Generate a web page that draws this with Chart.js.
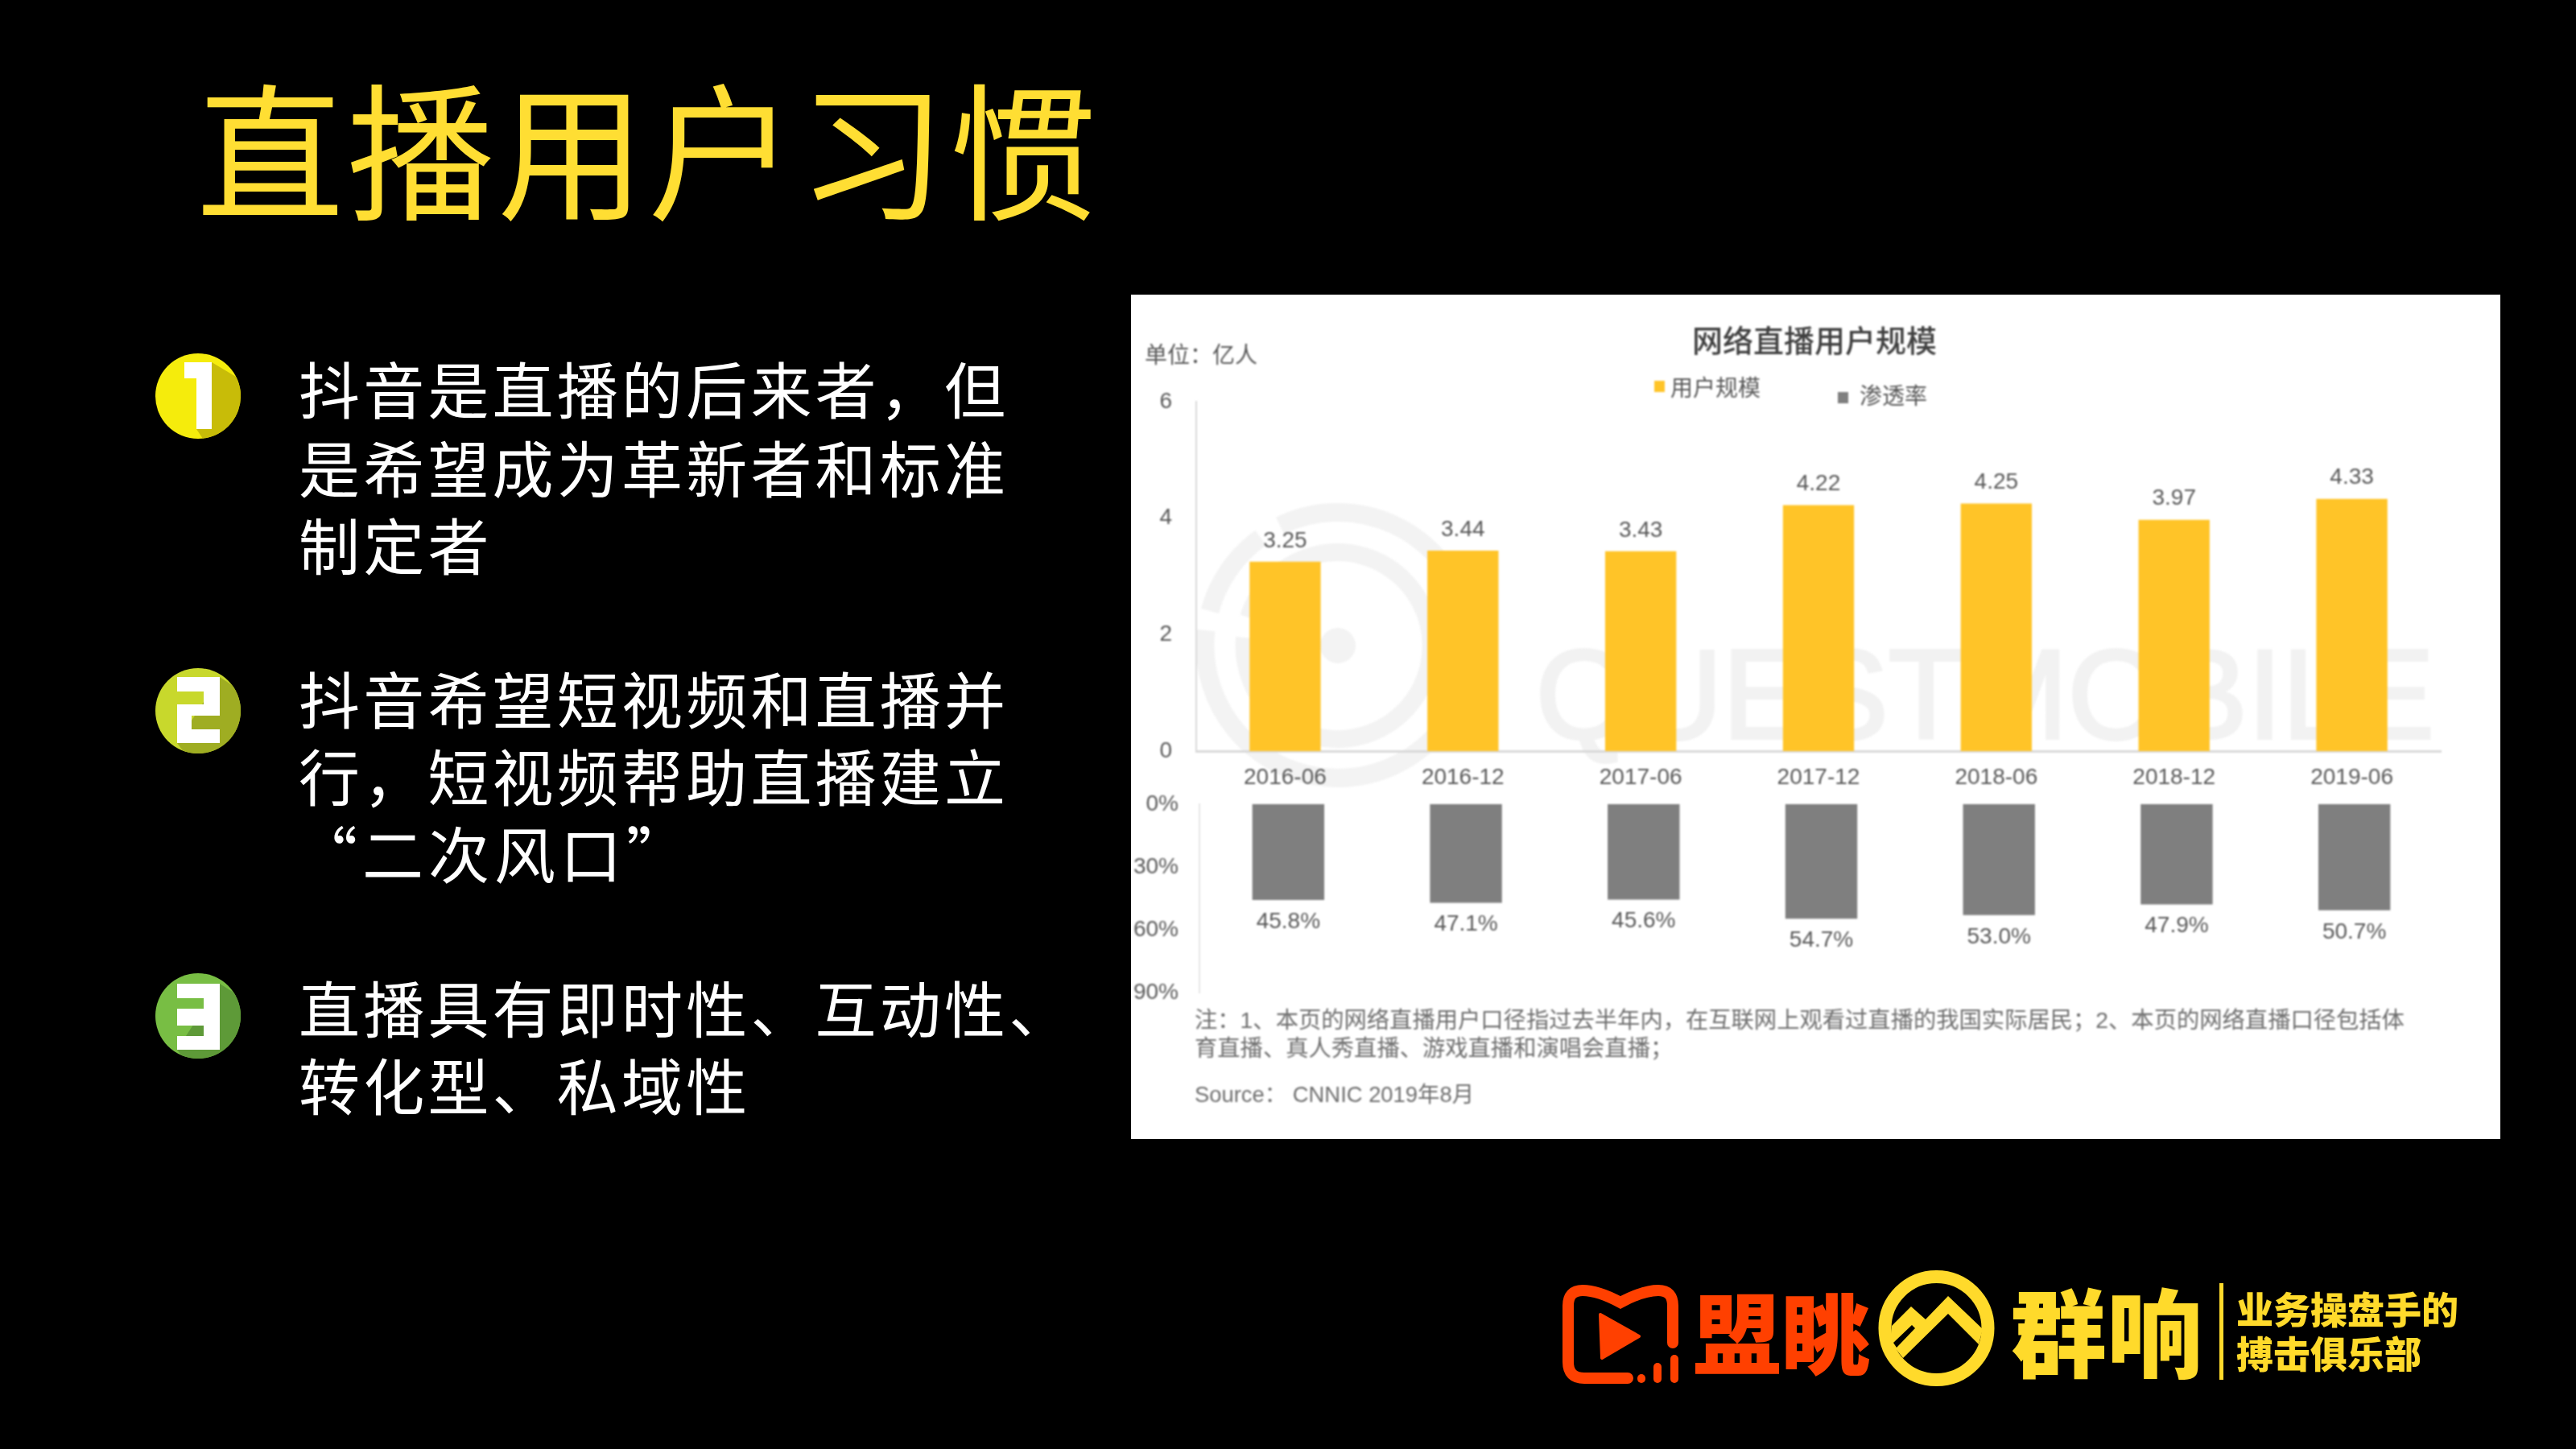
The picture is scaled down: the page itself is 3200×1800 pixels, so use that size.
<!DOCTYPE html>
<html lang="zh">
<head>
<meta charset="utf-8">
<script src="https://cdn.jsdelivr.net/npm/chart.js@4"></script>
<style>
  html, body { margin: 0; background: #000; }
  body { position: relative; width: 3200px; height: 1800px; overflow: hidden; font-family: "Noto Sans CJK SC", sans-serif; }
  .t { position: absolute; white-space: nowrap; }
  .title { left: 244px; top: 65px; font-size: 183px; line-height: 230px; color: #FFDE33; font-weight: 400; letter-spacing: 4px; }
  .line { left: 371px; font-size: 76px; line-height: 96px; color: #fff; letter-spacing: 4.2px; font-weight: 400; }
  svg { position: absolute; left: 0; top: 0; }
  #panel { position: absolute; left: 1405px; top: 366px; width: 1701px; height: 1049px; background: #fff; }
  #sheet { position: absolute; left: 0; top: 0; width: 3200px; height: 1800px; filter: blur(0.9px); font-family: "Liberation Sans", "Noto Sans CJK SC", sans-serif; }
  #sheet canvas { position: absolute; }
  .g { color: #595959; font-size: 28px; line-height: 36px; }
  .note { left: 1484px; color: #6e6e6e; font-size: 28.3px; line-height: 36px; }
  .sq { position: absolute; width: 13px; height: 14px; }
  .brand { font-weight: 900; }
</style>
</head>
<body>

<div class="t title">直播用户习惯</div>

<div class="t line" style="top:433px">抖音是直播的后来者，但</div>
<div class="t line" style="top:531px">是希望成为革新者和标准</div>
<div class="t line" style="top:627px">制定者</div>
<div class="t line" style="top:818px">抖音希望短视频和直播并</div>
<div class="t line" style="top:914px">行，短视频帮助直播建立</div>
<div class="t line" style="top:1010px;left:368px;letter-spacing:6px">“二次风口”</div>
<div class="t line" style="top:1202px">直播具有即时性、互动性、</div>
<div class="t line" style="top:1298px">转化型、私域性</div>

<!-- numbered badges -->
<svg width="3200" height="1800" viewBox="0 0 3200 1800">
  <defs>
    <clipPath id="c1"><circle cx="246" cy="492" r="53"/></clipPath>
    <clipPath id="c2"><circle cx="246" cy="883" r="53"/></clipPath>
    <clipPath id="c3"><circle cx="246" cy="1262" r="53"/></clipPath>
  </defs>
  <circle cx="246" cy="492" r="53" fill="#F5EC0C"/>
  <polygon clip-path="url(#c1)" points="263,450 320,484 320,560 262,560 244,533" fill="#C8BC08"/>
  <polygon points="229,450 263,450 263,533 244,533 244,470 229,470" fill="#fff"/>

  <circle cx="246" cy="883" r="53" fill="#C8D82C"/>
  <polygon clip-path="url(#c2)" points="273,841 320,872 320,950 240,950 220,923" fill="#9FAD22"/>
  <polygon points="220,841 273,841 273,889 238,889 238,906 273,906 273,923 220,923 220,875 253,875 253,859 220,859" fill="#fff"/>

  <circle cx="246" cy="1262" r="53" fill="#78BE44"/>
  <polygon clip-path="url(#c3)" points="273,1222 320,1252 320,1330 240,1330 220,1304" fill="#5E9A38"/>
  <polygon points="220,1222 273,1222 273,1304 220,1304 220,1287 253,1287 253,1274 220,1274 220,1253 253,1253 253,1240 220,1240" fill="#fff"/>
</svg>

<div id="panel"></div>

<div id="sheet">
  <!-- faint QuestMobile watermark behind the charts -->
  <svg width="3200" height="1800" viewBox="0 0 3200 1800">
    <path d="M1503 759 A165 165 0 0 1 1566 668" fill="none" stroke="#F3F3F3" stroke-width="23"/>
    <path d="M1590 653 A165 165 0 1 1 1498 783" fill="none" stroke="#F3F3F3" stroke-width="23"/>
    <path d="M1551 767 A116 116 0 1 1 1546 792" fill="none" stroke="#F3F3F3" stroke-width="22"/>
    <circle cx="1662" cy="802" r="22" fill="#F3F3F3"/>
    <text x="1908" y="917" font-family="Liberation Sans" font-size="158" fill="#F2F2F2" stroke="#F2F2F2" stroke-width="4" textLength="1116" lengthAdjust="spacingAndGlyphs">QUESTMOBILE</text>
  </svg>

  <div class="t" style="left:2102px;top:398px;font-size:38px;line-height:46px;color:#404040;font-weight:500;font-family:'Noto Sans CJK SC'">网络直播用户规模</div>
  <div class="t g" style="left:1422px;top:424px">单位：亿人</div>

  <div class="sq" style="left:2055px;top:473px;background:#FFC428"></div>
  <div class="t g" style="left:2075px;top:465px" id="legendA"></div>
  <div class="sq" style="left:2283px;top:487px;background:#7F7F7F"></div>
  <div class="t g" style="left:2310px;top:475px" id="legendB"></div>

  <canvas id="userChart" width="1640" height="520" style="left:1405px;top:460px"></canvas>
  <canvas id="rateChart" width="1655" height="304" style="left:1395px;top:964px"></canvas>

  <div class="t note" style="top:1249px">注：1、本页的网络直播用户口径指过去半年内，在互联网上观看过直播的我国实际居民；2、本页的网络直播口径包括体</div>
  <div class="t note" style="top:1284px">育直播、真人秀直播、游戏直播和演唱会直播；</div>
  <div class="t note" style="top:1342px;font-size:27.4px">Source： CNNIC 2019年8月</div>
</div>

<!-- logos bottom right -->
<svg width="3200" height="1800" viewBox="0 0 3200 1800">
  <path d="M2022 1712 H1968 Q1948 1712 1948 1692 V1622 Q1948 1603 1966 1603 Q1985 1603 2013 1618 Q2041 1603 2060 1603 Q2078 1603 2078 1622 V1668" fill="none" stroke="#FF4000" stroke-width="14" stroke-linecap="round"/>
  <polygon points="1988,1633 2036,1660 1990,1687" fill="#FF4000" stroke="#FF4000" stroke-width="4" stroke-linejoin="round"/>
  <line x1="2080" y1="1688" x2="2080" y2="1713" stroke="#FF4000" stroke-width="10" stroke-linecap="round"/>
  <line x1="2059" y1="1698" x2="2059" y2="1713" stroke="#FF4000" stroke-width="10" stroke-linecap="round"/>
  <line x1="2039" y1="1712" x2="2039" y2="1713" stroke="#FF4000" stroke-width="10" stroke-linecap="round"/>
  <circle cx="2405.5" cy="1650" r="64" fill="none" stroke="#FFDA2B" stroke-width="16"/>
  <polygon points="2350,1647 2374,1623 2392,1639 2420,1610 2463,1651 2458,1670 2420,1632 2364,1687 2348,1667" fill="#FFDA2B"/>
  <polygon points="2352,1668 2375,1646 2379,1650 2356,1674" fill="#000"/>
  <rect x="2757" y="1594" width="5" height="120" fill="#FFDA2B"/>
</svg>
<div class="t brand" style="left:2103px;top:1573px;font-size:110px;line-height:156px;color:#FF4000">盟眺</div>
<div class="t brand" style="left:2498px;top:1572px;font-size:119px;line-height:156px;color:#FFDA2B">群响</div>
<div class="t brand" style="left:2778px;top:1596px;font-size:46px;line-height:56px;color:#FFDA2B">业务操盘手的</div>
<div class="t brand" style="left:2778px;top:1651px;font-size:46px;line-height:56px;color:#FFDA2B">搏击俱乐部</div>

<script>
const categories = ["2016-06", "2016-12", "2017-06", "2017-12", "2018-06", "2018-12", "2019-06"];
const userScale = [3.25, 3.44, 3.43, 4.22, 4.25, 3.97, 4.33];
const penetration = [45.8, 47.1, 45.6, 54.7, 53.0, 47.9, 50.7];
const seriesNames = ["用户规模", "渗透率"];

document.getElementById("legendA").textContent = seriesNames[0];
document.getElementById("legendB").textContent = seriesNames[1];

const FONT = "Liberation Sans";
const INK = "#595959";
const AXIS = "#D9D9D9";

// Value labels sit a fixed distance past the end of each bar.
const valueLabels = {
  id: "valueLabels",
  afterDatasetsDraw(chart, args, opts) {
    const ctx = chart.ctx;
    ctx.save();
    ctx.font = `28px "${FONT}"`;
    ctx.fillStyle = INK;
    ctx.textAlign = "center";
    ctx.textBaseline = "middle";
    chart.getDatasetMeta(0).data.forEach((bar, i) => {
      ctx.fillText(opts.format(chart.data.datasets[0].data[i]), bar.x, bar.y + opts.offset);
    });
    ctx.restore();
  },
};

// Tick padding also counts towards the space Chart.js reserves above and below
// the value axis, so the canvases are placed with that in mind (padding + half a line).
new Chart(document.getElementById("userChart"), {
  type: "bar",
  data: {
    labels: categories,
    datasets: [{ label: seriesNames[0], data: userScale, backgroundColor: "#FFC428", barPercentage: 0.4, categoryPercentage: 1 }],
  },
  plugins: [valueLabels],
  options: {
    responsive: false,
    animation: false,
    devicePixelRatio: 1,
    layout: { padding: { top: 0, right: 13, bottom: 0, left: 0 } },
    plugins: {
      legend: { display: false },
      tooltip: { enabled: false },
      valueLabels: { offset: -26, format: (v) => v.toFixed(2) },
    },
    scales: {
      x: {
        grid: { display: false },
        border: { display: true, color: AXIS, width: 3 },
        ticks: { color: INK, font: { family: FONT, size: 28 }, maxRotation: 0, padding: 8 },
        afterFit: (s) => { s.height = 47; },
      },
      y: {
        min: 0, max: 6,
        grid: { display: false },
        border: { display: true, color: AXIS, width: 2 },
        ticks: { stepSize: 2, color: INK, font: { family: FONT, size: 28 }, padding: 22 },
        afterFit: (s) => { s.width = 81; },
      },
    },
  },
});

new Chart(document.getElementById("rateChart"), {
  type: "bar",
  data: {
    labels: categories,
    datasets: [{ label: seriesNames[1], data: penetration, backgroundColor: "#7F7F7F", barPercentage: 0.405, categoryPercentage: 1 }],
  },
  plugins: [valueLabels],
  options: {
    responsive: false,
    animation: false,
    devicePixelRatio: 1,
    layout: { padding: { top: 0, right: 15, bottom: 0, left: 0 } },
    plugins: {
      legend: { display: false },
      tooltip: { enabled: false },
      valueLabels: { offset: 27, format: (v) => v.toFixed(1) + "%" },
    },
    scales: {
      x: { display: false },
      y: {
        reverse: true,
        min: 0, max: 90,
        grid: { display: false },
        border: { display: true, color: "#E6E6E6", width: 2 },
        ticks: { stepSize: 30, color: INK, font: { family: FONT, size: 28 }, padding: 18, callback: (v) => v + "%" },
        afterFit: (s) => { s.width = 95; },
      },
    },
  },
});
</script>
</body>
</html>
